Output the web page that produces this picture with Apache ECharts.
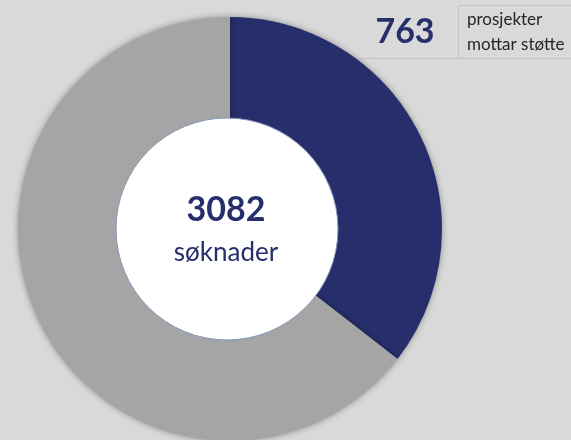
<!DOCTYPE html>
<html>
<head>
<meta charset="utf-8">
<script src="https://cdn.jsdelivr.net/npm/echarts@6/dist/echarts.min.js"></script>
<style>
  html, body { margin: 0; padding: 0; background: #d9d9d9; }
  #chart { width: 571px; height: 440px; }
</style>
</head>
<body>
<div id="chart"></div>
<script>
// ── Data ────────────────────────────────────────────────────────────────
const sliceNames = ["Mottar støtte", "Øvrige søknader"];
const sliceShares = [35.5, 64.5];          // andel av sirkelen, lest av bildet
const totalSoknader = 3082;
const prosjekterStotte = 763;
const senterTekst = "søknader";
const boksTekst = ["prosjekter", "mottar støtte"];

// ── Farger ──────────────────────────────────────────────────────────────
const farger = {
  marine: "#262f6b",
  gra: "#a5a5a5",
  bakgrunn: "#d9d9d9",
  hvit: "#ffffff",
  kant: "#c3c3c3",
  tekst: "#262626"
};

const fontFam = "Lato, 'Open Sans', sans-serif";

const chart = echarts.init(document.getElementById("chart"));

chart.setOption({
  backgroundColor: farger.bakgrunn,
  animation: false,
  series: [
    {
      type: "pie",
      center: [230, 229],
      radius: [0, 212],
      startAngle: 90,
      clockwise: true,
      silent: true,
      label: { show: false },
      labelLine: { show: false },
      itemStyle: {
        shadowBlur: 6,
        shadowColor: "rgba(0,0,0,0.35)"
      },
      data: sliceNames.map((navn, i) => ({
        name: navn,
        value: sliceShares[i],
        itemStyle: { color: i === 0 ? farger.marine : farger.gra }
      }))
    },
    {
      type: "pie",
      center: [227, 229],
      radius: [0, 111],
      silent: true,
      label: { show: false },
      labelLine: { show: false },
      itemStyle: { color: farger.hvit, borderColor: "#8496bb", borderWidth: 1 },
      data: [{ name: "senter", value: 1 }]
    }
  ],
  graphic: {
    elements: [
      // boks til høyre
      {
        type: "polyline",
        silent: true,
        z: 100,
        shape: { points: [[572, 5.5], [458.5, 5.5], [458.5, 58.5], [572, 58.5]] },
        style: { stroke: farger.kant, lineWidth: 1, fill: null }
      },
      {
        type: "line",
        silent: true,
        z: 100,
        shape: { x1: 360, y1: 58.5, x2: 458, y2: 58.5 },
        style: { stroke: farger.kant, lineWidth: 1 }
      },
      {
        type: "text",
        z: 100,
        x: 405, y: 32,
        style: {
          text: String(prosjekterStotte),
          fill: farger.marine,
          font: "bold 34px " + fontFam,
          align: "center",
          verticalAlign: "middle"
        }
      },
      {
        type: "text",
        z: 100,
        x: 467, y: 32,
        style: {
          text: boksTekst.join("\n"),
          fill: farger.tekst,
          font: "17px " + fontFam,
          lineHeight: 25,
          align: "left",
          verticalAlign: "middle"
        }
      },
      // senter-tekst
      {
        type: "text",
        z: 100,
        x: 226, y: 210,
        style: {
          text: String(totalSoknader),
          fill: farger.marine,
          font: "bold 34px " + fontFam,
          align: "center",
          verticalAlign: "middle"
        }
      },
      {
        type: "text",
        z: 100,
        x: 226, y: 253,
        style: {
          text: senterTekst,
          fill: farger.marine,
          font: "26px " + fontFam,
          align: "center",
          verticalAlign: "middle"
        }
      }
    ]
  }
});
</script>
</body>
</html>
